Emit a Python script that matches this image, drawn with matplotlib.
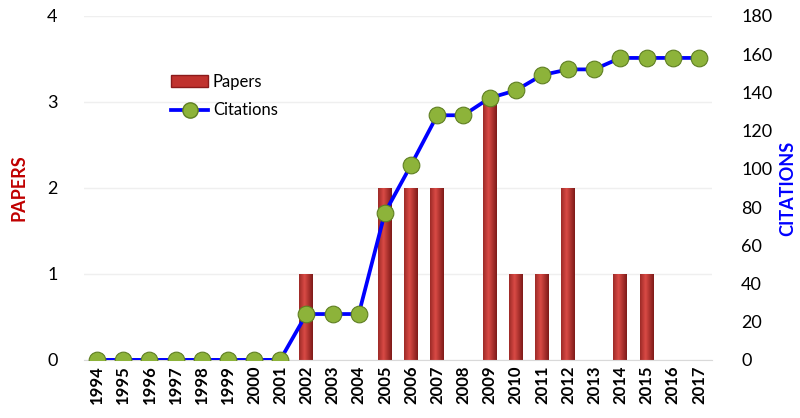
import matplotlib
matplotlib.use("Agg")
import matplotlib.pyplot as plt
import numpy as np
from matplotlib.lines import Line2D
from matplotlib.patches import Patch
from matplotlib.colors import LinearSegmentedColormap

plt.rcParams['font.family'] = ['Lato', 'DejaVu Sans']

years = [str(y) for y in range(1994, 2018)]
papers = [0, 0, 0, 0, 0, 0, 0, 0, 1, 0, 0, 2, 2, 2, 0, 3, 1, 1, 2, 0, 1, 1, 0, 0]
citations = [0, 0, 0, 0, 0, 0, 0, 0, 24, 24, 24, 77, 102, 128, 128, 137, 141, 149,
             152, 152, 158, 158, 158, 158]

fig = plt.figure(figsize=(8, 4.18), dpi=100)
ax = fig.add_axes([0.105, 0.139, 0.785, 0.823])
ax2 = ax.twinx()

x = np.arange(len(years))

# bars with a horizontal shading
bars = ax.bar(x, papers, width=0.53, color='#C0322E', edgecolor='none', zorder=2)
grad = np.linspace(0, 1, 64)
grad = 1 - np.abs(grad - 0.4) * 1.4
grad = np.clip(grad, 0, 1)[None, :]
cmap = LinearSegmentedColormap.from_list('barshade', ['#7E1A18', '#D94A45'])
for b in bars:
    h = b.get_height()
    if h <= 0:
        continue
    x0 = b.get_x()
    w = b.get_width()
    im = ax.imshow(grad, cmap=cmap, aspect='auto', extent=[x0, x0 + w, 0, h],
                   zorder=2, interpolation='bilinear')
    im.set_clip_path(b)

ax.set_xlim(-0.5, len(years) - 0.5)
ax.set_ylim(0, 4)
ax.set_yticks([0, 1, 2, 3, 4])
ax.grid(axis='y', color='#EFEFEF', linewidth=1, zorder=0)
ax.set_axisbelow(True)
ax.set_xticks(x)
ax.set_xticklabels(years, rotation=90, fontsize=12, fontweight='bold')
ax.tick_params(axis='x', length=0, pad=4)
ax.tick_params(axis='y', length=0, pad=19, labelsize=13)
for s in ['top', 'right', 'left']:
    ax.spines[s].set_visible(False)
ax.spines['bottom'].set_color('#D9D9D9')
ax.set_ylabel('PAPERS', color='#C00000', fontweight='bold', fontsize=13, labelpad=14)

ax2.plot(x, citations, color='#0000FF', linewidth=2.7, marker='o', markersize=12,
         markerfacecolor='#8DB33A', markeredgecolor='#5F7F22', markeredgewidth=0.8,
         zorder=3)
ax2.set_ylim(0, 180)
ax2.set_yticks(range(0, 181, 20))
ax2.tick_params(axis='y', length=0, pad=21, labelsize=13)
for s in ['top', 'right', 'left', 'bottom']:
    ax2.spines[s].set_visible(False)
ax2.set_ylabel('CITATIONS', color='#0000FF', fontweight='bold', fontsize=13, labelpad=5)

handles = [Patch(facecolor='#C0322E', edgecolor='#8B1A1A'),
           Line2D([0], [0], color='#0000FF', linewidth=2.7, marker='o', markersize=11,
                  markerfacecolor='#8DB33A', markeredgecolor='#5F7F22')]
ax2.legend(handles, ['Papers', 'Citations'], loc='upper left',
           bbox_to_anchor=(0.115, 0.875), frameon=False, fontsize=12,
           handlelength=2.2, handletextpad=0.3, labelspacing=0.75)

fig.savefig('out.png', dpi=100)
